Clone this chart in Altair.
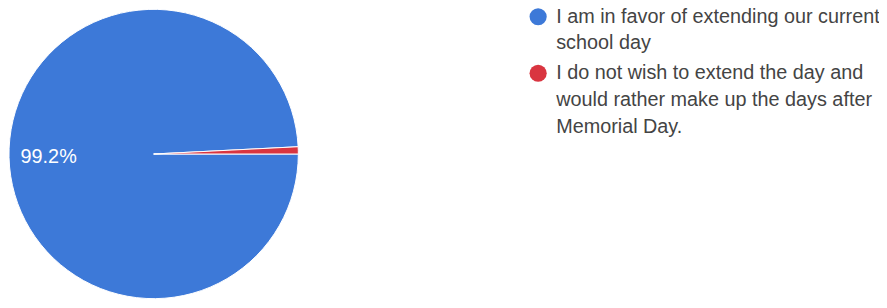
import math
import altair as alt
import pandas as pd

categories = [
    "I am in favor of extending our current\nschool day",
    "I do not wish to extend the day and\nwould rather make up the days after\nMemorial Day.",
]
percent = [99.2, 0.8]
colors = ["#3d79d8", "#d93540"]

df = pd.DataFrame({
    "answer": categories,
    "pct": percent,
    "order": list(range(len(categories))),
    "label": [f"{p}%" if p >= 5 else "" for p in percent],
})

theta_scale = alt.Scale(range=[math.pi / 2, math.pi / 2 + 2 * math.pi])
CX, CY, R = 147, 146, 146

base = alt.Chart(df).encode(
    theta=alt.Theta("pct:Q", stack=True, scale=theta_scale),
    order=alt.Order("order:Q"),
)

pie = base.mark_arc(radius=R, stroke="white", strokeWidth=1).encode(
    x=alt.value(CX),
    y=alt.value(CY),
    color=alt.Color(
        "answer:N",
        scale=alt.Scale(domain=categories, range=colors),
        legend=alt.Legend(
            orient="none",
            legendX=525,
            legendY=-2.5,
            title=None,
            symbolType="circle",
            symbolSize=300,
            symbolStrokeWidth=0,
            labelFont="Liberation Sans",
            labelFontSize=20,
            labelColor="#444444",
            labelLimit=420,
            labelOffset=8.2,
            labelBaseline="top",
            rowPadding=10,
            labelExpr="split(datum.label, '\\n')",
        ),
    ),
)

text = base.mark_text(
    radius=106, fontSize=20, font="Liberation Sans", color="white"
).encode(
    x=alt.value(CX),
    y=alt.value(CY),
    text="label:N",
)

chart = (
    alt.layer(pie, text)
    .properties(width=879, height=292, autosize=alt.AutoSizeParams(type="none"), padding=0)
    .configure(style={"guide-label": {"lineHeight": 27, "dy": -10}})
    .configure_view(stroke=None)
)

chart.save("out.html", embed_options={"renderer": "svg", "actions": False})
